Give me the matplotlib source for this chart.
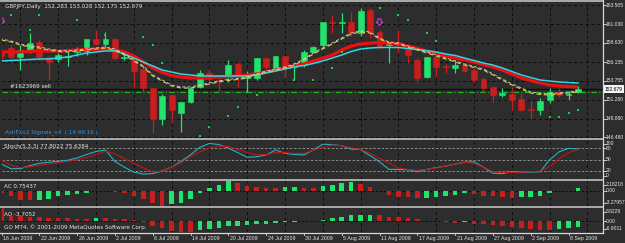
import matplotlib
matplotlib.use('Agg')
import matplotlib.pyplot as plt
import numpy as np
from matplotlib.patches import Rectangle
from matplotlib.lines import Line2D
from matplotlib.path import Path

# ---------------- data ----------------
opens = [157.30, 158.00, 156.77, 157.71, 158.74, 156.80, 156.52, 156.80, 157.40, 157.62,
         159.09, 158.49, 159.09, 156.70, 156.43, 155.23, 152.86, 148.80, 151.90, 149.57,
         151.06, 152.90, 154.70, 153.90, 154.28, 155.90, 154.10, 154.07, 156.64, 155.36,
         156.94, 155.50, 155.78, 157.50, 158.36, 161.25, 161.20, 161.36, 159.86, 162.86,
         160.07, 158.40, 158.70, 157.93, 156.43, 154.28, 156.77, 155.60, 155.36, 155.74,
         155.14, 153.98, 152.90, 151.92, 152.05, 151.37, 150.10, 149.99, 151.28, 152.35,
         151.90, 152.283]
highs = [157.90, 158.36, 158.36, 159.86, 159.00, 157.00, 157.33, 157.40, 158.10, 159.09,
         160.29, 160.07, 159.20, 157.20, 156.68, 155.80, 152.86, 152.00, 152.00, 151.06,
         152.82, 155.14, 155.10, 154.20, 156.43, 156.20, 155.00, 156.64, 156.70, 156.94,
         157.00, 156.20, 157.71, 158.20, 161.36, 162.22, 162.44, 162.60, 163.12, 163.10,
         160.29, 158.60, 160.30, 158.36, 156.68, 156.85, 156.90, 155.90, 156.43, 156.00,
         155.40, 154.20, 153.10, 152.80, 152.90, 152.20, 151.15, 151.50, 152.78, 152.80,
         152.40, 153.028]
lows = [156.50, 156.20, 155.14, 157.29, 156.43, 153.90, 156.17, 155.70, 156.90, 157.07,
        158.36, 158.14, 156.43, 156.43, 152.99, 152.35, 147.03, 148.06, 148.49, 147.20,
        150.89, 152.78, 153.20, 152.50, 153.60, 152.99, 152.50, 153.90, 155.00, 155.00,
        154.10, 153.85, 155.50, 157.40, 158.14, 159.90, 159.90, 159.50, 159.50, 159.26,
        157.90, 156.04, 157.30, 156.00, 153.60, 154.10, 154.28, 154.75, 154.75, 154.90,
        153.60, 152.30, 151.06, 151.70, 150.00, 149.85, 148.96, 149.35, 150.90, 151.70,
        151.30, 152.175]
closes = [157.00, 156.77, 157.71, 158.65, 156.85, 156.20, 157.07, 156.85, 157.50, 159.09,
          158.49, 159.09, 156.65, 156.80, 155.05, 152.78, 148.80, 151.83, 149.99, 151.06,
          152.78, 154.79, 153.94, 153.70, 155.78, 154.50, 154.20, 156.64, 155.57, 156.94,
          155.36, 155.60, 157.50, 158.14, 161.36, 161.20, 161.30, 159.86, 162.73, 160.07,
          158.14, 158.60, 158.40, 157.07, 154.07, 156.85, 155.57, 155.50, 155.74, 155.05,
          153.85, 152.78, 151.92, 152.22, 151.28, 149.99, 150.00, 151.15, 152.35, 151.92,
          152.00, 152.679]

ma_red = [157.46, 157.46, 157.46, 157.52, 157.59, 157.59, 157.59, 157.65, 157.71, 157.78,
          157.84, 157.84, 157.71, 157.46, 156.94, 156.17, 155.40, 154.82, 154.43, 154.24,
          154.11, 154.11, 154.17, 154.24, 154.30, 154.37, 154.50, 154.62, 154.88, 155.14,
          155.40, 155.66, 155.91, 156.30, 156.68, 157.07, 157.71, 158.23, 158.49, 158.61,
          158.68, 158.61, 158.49, 158.23, 157.91, 157.59, 157.26, 156.94, 156.68, 156.43,
          156.17, 155.85, 155.53, 155.14, 154.62, 154.11, 153.79, 153.47, 153.21, 153.08,
          153.02, 152.95]
ma_cyan = [156.30, 156.36, 156.43, 156.49, 156.56, 156.56, 156.68, 156.81, 157.07, 157.33,
           157.46, 157.59, 157.59, 157.20, 156.68, 156.17, 155.66, 155.14, 154.88, 154.62,
           154.50, 154.37, 154.37, 154.37, 154.37, 154.37, 154.37, 154.50, 154.75, 155.01,
           155.27, 155.53, 155.72, 155.98, 156.30, 156.68, 157.07, 157.52, 157.84, 157.97,
           158.04, 158.04, 158.04, 157.91, 157.78, 157.62, 157.46, 157.20, 157.01, 156.68,
           156.36, 156.04, 155.78, 155.40, 154.95, 154.50, 154.17, 153.85, 153.72, 153.60,
           153.53, 153.47]
ma_fast = [159.00, 158.74, 158.36, 158.10, 157.97, 157.71, 157.52, 157.46, 157.59, 157.71,
           157.84, 157.97, 157.71, 157.07, 156.30, 155.53, 154.37, 153.72, 153.08, 152.82,
           152.82, 153.08, 153.34, 153.60, 153.79, 153.92, 154.11, 154.50, 154.88, 155.14,
           155.40, 155.78, 156.43, 157.20, 157.84, 158.49, 159.13, 159.77, 160.03, 159.90,
           159.13, 158.61, 158.49, 158.10, 157.71, 157.33, 156.94, 156.56, 156.17, 155.78,
           155.46, 155.14, 154.50, 153.85, 153.21, 152.69, 152.18, 151.99, 151.92, 152.05,
           152.18, 152.31]

dot_idx = [1, 3, 4, 8, 11, 15, 16, 17, 21, 22, 24, 25, 26, 27, 31, 33, 35, 36, 40, 42, 43, 45, 46,
           58, 59, 60, 61]
dot_price = [162.22, 160.29, 162.22, 161.57, 159.64, 159.39, 158.36, 156.04, 146.65, 147.80,
             149.22, 150.38, 152.31, 151.92, 153.85, 153.85, 155.40, 157.46, 163.12, 162.22,
             161.57, 159.90, 158.87, 149.09, 149.09, 149.60, 149.99]

arrow_idx = [0, 40]
arrow_price = [161.4, 161.3]

stoch_main = [38, 26, 26, 34, 40, 43, 45, 48, 54, 63, 71, 75, 45, 30, 17, 12, 13, 20, 30, 45,
              62, 82, 92, 89, 80, 68, 56, 57, 62, 75, 66, 63, 62, 75, 90, 89, 86, 77, 76, 60,
              44, 24, 24, 23, 18, 24, 29, 33, 38, 43, 44, 30, 14, 13, 18, 17, 17, 18, 49, 70,
              79, 77.8022]
stoch_signal = [49, 35, 29, 31, 35, 38, 42, 45, 49, 55, 63, 72, 65, 52, 40, 28, 17, 20, 30, 42,
                57, 70, 80, 85, 84, 76, 68, 62, 63, 68, 68, 66, 66, 74, 82, 88, 86, 81, 76, 66,
                53, 41, 28, 24, 22, 24, 28, 33, 38, 43, 40, 30, 18, 16, 16, 17, 18, 20, 31, 52,
                68, 75.6384]

ac = [-0.4, -1.0, -1.9, -2.0, -1.9, -1.8, -1.2, -0.8, -0.7, -0.4,
      0.05, 0.0, -0.2, -0.5, -1.2, -1.7, -2.6, -3.27957, -2.9, -2.6,
      -1.8, -0.5, 0.7, 1.2, 2.18218, 1.7, 1.1, 0.8, 0.7, 0.6,
      0.8, 0.9, 0.6, 0.55, 1.0, 1.4, 1.85, 1.9, 1.6, 0.95,
      0.05, -0.9, -1.3, -1.4, -1.6, -1.5, -1.3, -1.1, -0.9, -0.5,
      -0.6, -1.1, -1.2, -1.3, -1.5, -1.4, -1.3, -1.0, -0.5, -0.05,
      0.1, 0.75437]
ao = [8.8229, 3.8, 3.7, 3.1, 2.6, 2.5, 2.4, 2.1, 1.8, 1.6,
      2.4, 2.2, 1.7, 1.5, 0.8, -0.4, -2.9, -4.6, -6.2, -6.7,
      -6.9011, -5.3, -4.7, -4.0, -3.1, -2.7, -2.5, -1.9, -1.5, -1.0,
      -0.6, -0.2, 0.2, 0.6, 1.0, 2.1, 3.1, 4.0, 4.3, 4.5,
      4.0, 3.2, 2.7, 2.4, 1.3, 0.6, 0.3, -0.1, -1.0, -0.6,
      -1.5, -1.9, -2.3, -2.9, -3.6, -4.4, -5.0, -5.5, -5.6, -4.8,
      -4.4, -3.7052]

price_levels = [163.505, 161.030, 158.630, 156.155, 153.755, 151.280, 148.880, 146.480]
bid_price = 152.679
order_price = 152.27
date_labels = ["16 Jun 2009", "22 Jun 2009", "26 Jun 2009", "2 Jul 2009", "8 Jul 2009",
               "14 Jul 2009", "20 Jul 2009", "24 Jul 2009", "30 Jul 2009", "5 Aug 2009",
               "11 Aug 2009", "17 Aug 2009", "21 Aug 2009", "27 Aug 2009", "2 Sep 2009",
               "8 Sep 2009"]

# ---------------- style / layout ----------------
W, H = 625, 243
BG = '#2d2d2d'
BULL = '#22e46c'
BEAR = '#c81e1e'
TXT = '#e6e6e6'
SEP = '#a8a8a8'
FS = 4.1      # panel texts
FSA = 3.6     # axis labels
AXFONT = ['Liberation Sans', 'DejaVu Sans']
X0, X1 = 2, 603
BAR_PX, BAR0 = 9.45, 1.5
XL = ((X0 - BAR0) / BAR_PX, (X1 - BAR0) / BAR_PX)

plt.rcParams['font.family'] = ['DejaVu Sans']
fig = plt.figure(figsize=(W / 100, H / 100), dpi=100)
fig.patch.set_facecolor(BG)


def pax(y0, y1):
    ax = fig.add_axes([X0 / W, 1 - y1 / H, (X1 - X0) / W, (y1 - y0) / H])
    ax.set_facecolor(BG)
    ax.set_xlim(*XL)
    for s in ax.spines.values():
        s.set_visible(False)
    ax.set_xticks([])
    ax.set_yticks([])
    return ax


panels = {'main': (3, 138), 'stoch': (140, 179), 'ac': (181, 206), 'ao': (208, 232)}
ax_m = pax(*panels['main'])
ax_s = pax(*panels['stoch'])
ax_ac = pax(*panels['ac'])
ax_ao = pax(*panels['ao'])

ax_m.set_ylim(146.388, 163.763)
ax_s.set_ylim(-1, 101)
ax_ac.set_ylim(min(ac), max(ac))
ax_ao.set_ylim(min(ao), max(ao))

n = len(opens)
idx = np.arange(n)
vgrid = np.arange(2, n + 4, 4)

for ax in (ax_m, ax_s, ax_ac, ax_ao):
    for g in vgrid:
        ax.axvline(g, color='#0c0c0c', lw=0.7, ls=(0, (3, 3)), zorder=0.5)

for p in price_levels:
    ax_m.axhline(p, color='#0c0c0c', lw=0.7, ls=(0, (3, 3)), zorder=0.5)

# candles
o = np.array(opens); c = np.array(closes); hi = np.array(highs); lo = np.array(lows)
cols = [BULL if cc >= oo else BEAR for oo, cc in zip(o, c)]
ax_m.vlines(idx, lo, hi, colors=cols, lw=0.9, zorder=2)
bottoms = np.minimum(o, c)
heights = np.maximum(np.abs(c - o), 0.13)
ax_m.bar(idx, heights, bottom=bottoms, width=0.62, color=cols, edgecolor=cols, lw=0.4, zorder=3)

# moving averages
ax_m.plot(idx, ma_red, color='#ee1010', lw=2.3, zorder=4, solid_capstyle='butt')
ax_m.plot(idx, ma_cyan, color='#2fd6e8', lw=1.1, zorder=4)
ax_m.plot(idx, ma_fast, color='#d9d040', lw=0.8, ls=(0, (4, 2.5)), zorder=5)
ax_m.plot(idx, np.array(ma_fast) + 0.14, color='#cfcfcf', lw=0.6, ls=(2, (4, 2.5)), zorder=5)

# dots
ax_m.scatter(dot_idx, dot_price, s=1.6, marker='s', color='#22cc33', lw=0, zorder=5)

# hollow down-arrow signals (drawn as markers)
arrow_marker = Path([(-0.25, 0.5), (0.25, 0.5), (0.25, 0.0), (0.5, 0.0), (0.0, -0.5),
                     (-0.5, 0.0), (-0.25, 0.0), (-0.25, 0.5)], closed=True)
ax_m.scatter(arrow_idx, arrow_price, s=22, marker=arrow_marker, facecolor='none',
             edgecolor='#e040e0', lw=0.7, zorder=6)

# bid / order lines
ax_m.axhline(bid_price, color='#0a0a0a', lw=0.9, zorder=1)
ax_m.axhline(order_price, color='#22bb22', lw=0.8, ls=(0, (5, 2, 1, 2)), zorder=1)
ax_m.text(0.9, bid_price + 0.05, '#1623969 sell', color=TXT, fontsize=FS, va='bottom',
          ha='left', zorder=7)

fig.text(5 / W, 1 - 6.5 / H, 'GBPJPY,Daily  152.283 153.028 152.175 152.679', color=TXT,
         fontsize=FS, va='center', ha='left')
fig.text(5 / W, 1 - 132 / H, 'AshFXv2 Signals_v4  ( 14:49:16 )', color='#2e96e8',
         fontsize=FS, va='center', ha='left')

# stochastic
ax_s.plot(idx, stoch_main, color='#20b4c4', lw=0.8, zorder=3)
ax_s.plot(idx, stoch_signal, color='#c81414', lw=0.8, zorder=3)
for lv in (80, 50, 20):
    ax_s.axhline(lv, color='#9a9a9a', lw=0.6, ls=(0, (3, 2)), zorder=1)
fig.text(4 / W, 1 - 146 / H, 'Stoch(5,3,3) 77.8022 75.6384', color=TXT, fontsize=FS,
         va='center', ha='left')


def hist(ax, vals, first_col):
    v = np.array(vals)
    colors = [first_col] + [BULL if v[k] > v[k - 1] else BEAR for k in range(1, len(v))]
    ax.bar(idx, v, width=0.48, color=colors, lw=0, zorder=3)
    ax.axhline(0, color='#080808', lw=0.7, ls=(0, (2, 2)), zorder=1)


hist(ax_ac, ac, BEAR)
hist(ax_ao, ao, BEAR)
fig.text(4 / W, 1 - 186 / H, 'AC 0.75437', color=TXT, fontsize=FS, va='center', ha='left')
fig.text(4 / W, 1 - 214 / H, 'AO -3.7052', color=TXT, fontsize=FS, va='center', ha='left')
fig.text(4 / W, 1 - 227.5 / H, 'GO MT4, \u00a9 2001-2009 MetaQuotes Software Corp.',
         color=TXT, fontsize=FS, va='center', ha='left')

# separators and frame
for (ya, yb) in ((0.5, 2.5), (138, 140), (179, 181), (206, 208)):
    fig.patches.append(Rectangle((0, 1 - yb / H), X1 / W, (yb - ya) / H, transform=fig.transFigure,
                                 facecolor=SEP, edgecolor='none', zorder=10))
fig.add_artist(Line2D([X1 / W, X1 / W], [1 - 232.5 / H, 1 - 0.5 / H], color='#d8d8d8', lw=0.9))
fig.add_artist(Line2D([0, X1 / W], [1 - 232.5 / H, 1 - 232.5 / H], color='#d8d8d8', lw=0.9))


def ylab(ax, y0, y1, value, text, clamp=True, box=False):
    lo_, hi_ = ax.get_ylim()
    yp = y0 + (hi_ - value) / (hi_ - lo_) * (y1 - y0)
    if clamp:
        yp = min(max(yp, y0 + 3.5), y1 - 3.5)
    if box:
        fig.patches.append(Rectangle(((X1 + 1) / W, 1 - (yp + 4) / H), 20 / W, 8 / H,
                                     transform=fig.transFigure, facecolor='#f4f4f4',
                                     edgecolor='none', zorder=11))
        fig.text(605 / W, 1 - yp / H, text, color='#000000', fontsize=FSA, va='center',
                 ha='left', zorder=12, family=AXFONT)
    else:
        fig.text(606 / W, 1 - yp / H, text, color=TXT, fontsize=FSA, va='center', ha='left',
                 family=AXFONT)
        fig.add_artist(Line2D([X1 / W, (X1 + 2.5) / W], [1 - yp / H] * 2, color='#d8d8d8', lw=0.6))


for p in price_levels:
    ylab(ax_m, *panels['main'], p, f'{p:.3f}', clamp=False)
ylab(ax_m, *panels['main'], bid_price, f'{bid_price:.3f}', clamp=False, box=True)
for lv in (100, 80, 50, 20, 0):
    ylab(ax_s, *panels['stoch'], lv, str(lv))
ylab(ax_ac, *panels['ac'], max(ac), f'{max(ac):.5f}')
ylab(ax_ac, *panels['ac'], 0, '0.00')
ylab(ax_ac, *panels['ac'], min(ac), f'{min(ac):.5f}')
ylab(ax_ao, *panels['ao'], max(ao), f'{max(ao):.4f}')
ylab(ax_ao, *panels['ao'], 0, '0.00')
ylab(ax_ao, *panels['ao'], min(ao), f'{min(ao):.4f}')

# date axis
ax_d = fig.add_axes([X0 / W, 0, (X1 - X0) / W, 1 - 232.5 / H])
ax_d.set_xlim(*XL)
ax_d.set_ylim(0, 1)
ax_d.axis('off')
for k, lab in enumerate(date_labels):
    xi = 4 * k
    ax_d.plot([xi, xi], [0.72, 1.0], color='#d8d8d8', lw=0.6, clip_on=False)
    ax_d.annotate(lab, (xi, 0.45), xytext=(1.5, 0), textcoords='offset pixels', color=TXT,
                  fontsize=FSA + 0.2, va='center', ha='left', annotation_clip=False,
                  family=AXFONT)

fig.savefig('out.png', dpi=100, facecolor=BG)
